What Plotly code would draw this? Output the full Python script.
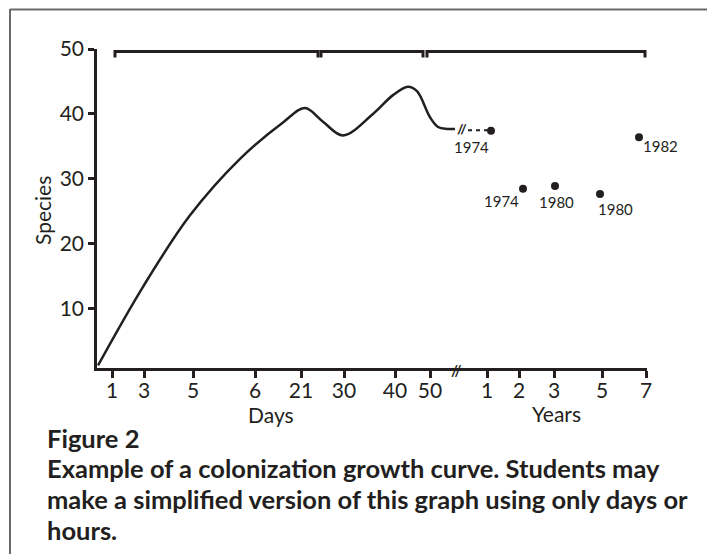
import plotly.graph_objects as go

# ---------------- data ----------------
tick_pos = [15, 47, 96, 158, 204, 247, 298, 333, 390, 422, 457, 505, 549]
tick_text = ["1", "3", "5", "6", "21", "30", "40", "50", "1", "2", "3", "5", "7"]
y_ticks = [10, 20, 30, 40, 50]

curve_x = [1, 46, 93, 143, 186, 208, 226, 246, 276, 296, 311, 320, 333, 341, 350, 358]
curve_y = [1.3, 13.4, 24.4, 33.1, 38.7, 40.9, 38.8, 36.7, 40.0, 42.9, 44.2, 43.5, 39.5, 38.0, 37.7, 37.7]

link_x = [371, 392]
link_y = [37.5, 37.5]

dot_x = [394, 426, 458, 503, 542]
dot_y = [37.4, 28.5, 28.9, 27.7, 36.4]
dot_labels = ["1974", "1974", "1980", "1980", "1982"]

bracket_starts = [18, 224, 330]
bracket_ends = [221, 326, 548]
bracket_level = 49.6
bracket_drop = 48.7

axis_break_x = 359
curve_break_x = 365

caption_title = "Figure 2"
caption_lines = [
    "Example of a colonization growth curve. Students may",
    "make a simplified version of this graph using only days or",
    "hours.",
]

# ---------------- styling ----------------
INK = "#231f20"
FONT = "Lato"
W, H = 715, 554
OFF = 8                      # page body margin
PX0, PY0, PW, PH = 97, 49, 550, 319   # plot area in screenshot pixels
L, T = PX0 - OFF, PY0 - OFF
R, B = W - L - PW, H - T - PH


def px_x(px):
    return (px - PX0) / PW


def px_y(py):
    return (PY0 + PH - py) / PH


fig = go.Figure()

fig.add_trace(go.Scatter(x=curve_x, y=curve_y, mode="lines",
                         line=dict(color=INK, width=2.5, shape="spline", smoothing=1.0),
                         hoverinfo="skip", showlegend=False, cliponaxis=False))
fig.add_trace(go.Scatter(x=link_x, y=link_y, mode="lines",
                         line=dict(color=INK, width=2, dash="4px,4px"),
                         hoverinfo="skip", showlegend=False, cliponaxis=False))
fig.add_trace(go.Scatter(x=dot_x, y=dot_y, mode="markers",
                         marker=dict(color=INK, size=8),
                         hoverinfo="skip", showlegend=False, cliponaxis=False))
for s, e in zip(bracket_starts, bracket_ends):
    fig.add_trace(go.Scatter(x=[s, s, e, e],
                             y=[bracket_drop, bracket_level, bracket_level, bracket_drop],
                             mode="lines", line=dict(color=INK, width=3),
                             hoverinfo="skip", showlegend=False, cliponaxis=False))

annotations = []
label_offsets = [(-20, -16), (-22, -12), (1, -16), (15, -15), (21, -9)]
for x, y, t, (dx, dy) in zip(dot_x, dot_y, dot_labels, label_offsets):
    annotations.append(dict(x=x, y=y, xref="x", yref="y", text=t, showarrow=False,
                            xanchor="center", yanchor="middle",
                            xshift=dx, yshift=dy, font=dict(family=FONT, size=15, color=INK)))

annotations.append(dict(x=axis_break_x, y=0, xref="x", yref="paper", text="<b>//</b>",
                        xanchor="center", yanchor="middle", yshift=-2,
                        showarrow=False, font=dict(family=FONT, size=15, color=INK)))
annotations.append(dict(x=curve_break_x, y=curve_y[-1], xref="x", yref="y", text="<b>//</b>",
                        xanchor="center", yanchor="middle",
                        showarrow=False, font=dict(family=FONT, size=14, color=INK)))

annotations.append(dict(x=px_x(42), y=px_y(211), xref="paper", yref="paper", text="Species",
                        xanchor="center", yanchor="middle",
                        textangle=-90, showarrow=False, font=dict(family=FONT, size=21, color=INK)))
annotations.append(dict(x=px_x(271), y=px_y(414), xref="paper", yref="paper", text="Days",
                        xanchor="center", yanchor="middle",
                        showarrow=False, font=dict(family=FONT, size=21, color=INK)))
annotations.append(dict(x=px_x(556), y=px_y(413), xref="paper", yref="paper", text="Years",
                        xanchor="center", yanchor="middle",
                        showarrow=False, font=dict(family=FONT, size=21, color=INK)))

CAP_X = 45
annotations.append(dict(x=px_x(CAP_X), y=px_y(438), xref="paper", yref="paper",
                        text="<b>" + caption_title + "</b>", xanchor="left", yanchor="middle",
                        showarrow=False, font=dict(family=FONT, size=25.5, color=INK)))
for i, (line, ypx) in enumerate(zip(caption_lines, [468, 499, 530])):
    annotations.append(dict(x=px_x(CAP_X), y=px_y(ypx), xref="paper", yref="paper",
                            text="<b>" + line + "</b>", xanchor="left", yanchor="middle",
                            showarrow=False, font=dict(family=FONT, size=25.5, color=INK)))

BORDER = "#6a6a6a"
shapes = [
    dict(type="line", xref="paper", yref="paper", x0=px_x(10), x1=px_x(10), y0=px_y(9), y1=px_y(560),
         line=dict(color=BORDER, width=2)),
    dict(type="line", xref="paper", yref="paper", x0=px_x(10), x1=px_x(712), y0=px_y(9.5), y1=px_y(9.5),
         line=dict(color=BORDER, width=2)),
    dict(type="line", xref="paper", yref="paper", x0=px_x(712), x1=px_x(712), y0=px_y(9), y1=px_y(560),
         line=dict(color="#8a8a8a", width=1.5)),
]

fig.update_layout(
    width=W, height=H,
    margin=dict(l=L, r=R, t=T, b=B),
    paper_bgcolor="white", plot_bgcolor="white",
    showlegend=False,
    annotations=annotations,
    shapes=shapes,
    xaxis=dict(range=[0, 550], tickmode="array", tickvals=tick_pos, ticktext=tick_text,
               ticks="outside", ticklen=7, tickwidth=2.5, tickcolor=INK, ticklabelstandoff=-5,
               showline=True, linewidth=2.5, linecolor=INK, showgrid=False, zeroline=False,
               tickfont=dict(family=FONT, size=21, color=INK), fixedrange=True),
    yaxis=dict(range=[0.9, 50], tickmode="array", tickvals=y_ticks,
               ticks="outside", ticklen=6, tickwidth=2.5, tickcolor=INK,
               showline=True, linewidth=2.5, linecolor=INK, showgrid=False, zeroline=False,
               tickfont=dict(family=FONT, size=21, color=INK), fixedrange=True),
)

fig.write_html("out.html")
